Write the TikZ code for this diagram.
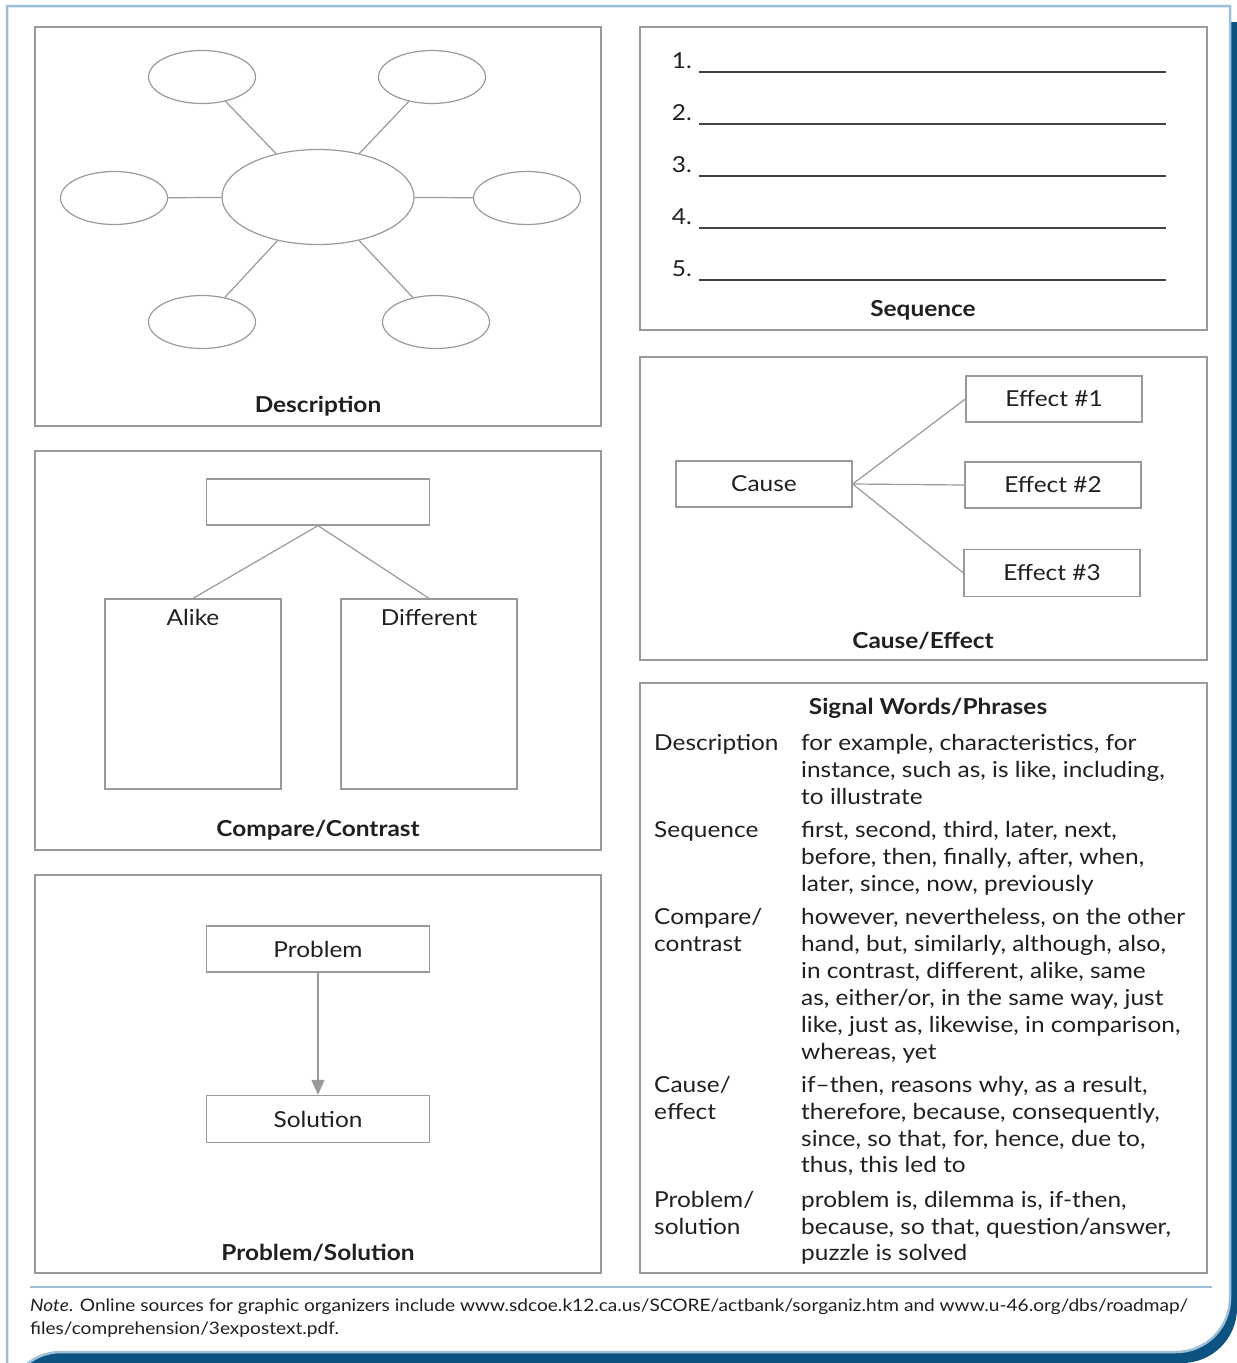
\documentclass[tikz,border=0pt]{standalone}
\usepackage{fontspec}
\setmainfont{Lato}[FakeStretch=1.11]
\usetikzlibrary{shapes.geometric,arrows.meta}
\definecolor{txt}{HTML}{231F20}
\definecolor{boxgray}{HTML}{9A9A9A}
\definecolor{lightblue}{HTML}{9DC0D8}
\definecolor{darkblue}{HTML}{0D5382}
\tikzset{
  panel/.style={draw=boxgray, line width=1.5pt},
  rbox/.style={draw=boxgray, line width=1.3pt, rectangle, inner sep=0pt, text=txt, font=\fontsize{22}{26}\selectfont},
  oval/.style={draw=boxgray, line width=1.2pt, ellipse, inner sep=0pt},
  conn/.style={draw=boxgray, line width=1.2pt},
  ttl/.style={font=\fontsize{22}{26}\selectfont\bfseries, text=txt, inner sep=0pt},
  num/.style={font=\fontsize{22}{26}\selectfont, text=txt, inner sep=0pt, anchor=mid east},
  wline/.style={draw=txt!85, line width=1.4pt},
  cell/.style={font=\fontsize{22}{26}\selectfont, text=txt, inner sep=0pt, anchor=mid west},
  note/.style={font=\fontsize{17.2}{22}\selectfont, text=txt, inner sep=0pt, anchor=mid west}
}
\begin{document}
\begin{tikzpicture}[x=1pt,y=-1pt]
\useasboundingbox (0,0) rectangle (1237,1363);
% outer frame
\fill[darkblue] (12,22) -- (1237,22) -- (1237,1308) arc[start angle=0,end angle=90,radius=55] -- (65,1363) arc[start angle=270,end angle=180,radius=55] -- cycle;
\fill[white] (7,6) -- (1230,6) -- (1230,1298) arc[start angle=0,end angle=90,radius=54] -- (61,1352) arc[start angle=270,end angle=180,radius=54] -- cycle;
\draw[lightblue, line width=2.5pt] (7,6) -- (1230,6) -- (1230,1298) arc[start angle=0,end angle=90,radius=54] -- (61,1352) arc[start angle=270,end angle=180,radius=54] -- cycle;

% ---------- Description panel
\draw[panel] (35,27) rectangle (601,426);
\node[oval, minimum width=192pt, minimum height=95pt] (big) at (318,197) {};
\node[oval, minimum width=107pt, minimum height=53pt] (d1) at (202,77) {};
\node[oval, minimum width=107pt, minimum height=53pt] (d2) at (432,77) {};
\node[oval, minimum width=107pt, minimum height=53pt] (d3) at (114,198) {};
\node[oval, minimum width=107pt, minimum height=53pt] (d4) at (527,198) {};
\node[oval, minimum width=107pt, minimum height=53pt] (d5) at (202,322) {};
\node[oval, minimum width=107pt, minimum height=53pt] (d6) at (436,322) {};
\foreach \e in {d1,d2,d3,d4,d5,d6} \draw[conn] (big) -- (\e);
\node[ttl] (tdesc) at (318,406) {Description};

% ---------- Sequence panel
\draw[panel] (640,27) rectangle (1207,330);
\node[num] (n1) at (692,66) {1.};
\node[num] (n2) at (692,118) {2.};
\node[num] (n3) at (692,170) {3.};
\node[num] (n4) at (692,222) {4.};
\node[num] (n5) at (692,274) {5.};
\draw[wline] (699,72) -- (1166,72);
\draw[wline] (699,124) -- (1166,124);
\draw[wline] (699,176) -- (1166,176);
\draw[wline] (699,228) -- (1166,228);
\draw[wline] (699,280) -- (1166,280);
\node[ttl] (tseq) at (923,310) {Sequence};

% ---------- Cause/Effect panel
\draw[panel] (640,357) rectangle (1207,660);
\node[rbox, minimum width=176pt, minimum height=46pt] (cause) at (764,484) {Cause};
\node[rbox, minimum width=176pt, minimum height=46pt] (ef1) at (1054,399) {Effect \#1};
\node[rbox, minimum width=176pt, minimum height=46pt] (ef2) at (1053,485) {Effect \#2};
\node[rbox, minimum width=176pt, minimum height=47pt] (ef3) at (1052,573) {Effect \#3};
\draw[conn] (cause.east) -- (ef1.west);
\draw[conn] (cause.east) -- (ef2.west);
\draw[conn] (cause.east) -- (ef3.west);
\node[ttl] (tce) at (923,641) {Cause/Effect};

% ---------- Compare/Contrast panel
\draw[panel] (35,451) rectangle (601,850);
\node[rbox, minimum width=223pt, minimum height=46pt] (top) at (318,502) {};
\node[rbox, minimum width=176pt, minimum height=190pt] (alike) at (193,694) {};
\node[rbox, minimum width=176pt, minimum height=190pt] (diff) at (429,694) {};
\draw[conn] (top.south) -- (alike.north);
\draw[conn] (top.south) -- (diff.north);
\node[cell, anchor=mid] (lalike) at (193,623) {Alike};
\node[cell, anchor=mid] (ldiff) at (429,623) {Different};
\node[ttl] (tcc) at (318,830) {Compare/Contrast};

% ---------- Problem/Solution panel
\draw[panel] (35,875) rectangle (601,1273);
\node[rbox, minimum width=223pt, minimum height=46pt] (prob) at (318,949) {Problem};
\node[rbox, minimum width=223pt, minimum height=47pt] (sol) at (318,1119) {Solution};
\draw[conn, -{Triangle[length=15pt,width=13pt]}, draw=boxgray, fill=boxgray!90!black] (prob.south) -- (sol.north);
\node[ttl] (tps) at (318,1253) {Problem/Solution};

% ---------- Signal words panel
\draw[panel] (640,683) rectangle (1207,1273);
\node[ttl] (tsig) at (928,708) {Signal Words/Phrases};
\node[cell] (a1) at (654,748) {Description};
\node[cell] (b1) at (801,748) {for example, characteristics, for};
\node[cell] (b2) at (801,775) {instance, such as, is like, including,};
\node[cell] (b3) at (801,802) {to illustrate};
\node[cell] (a2) at (654,835) {Sequence};
\node[cell] (c1) at (801,835) {first, second, third, later, next,};
\node[cell] (c2) at (801,862) {before, then, finally, after, when,};
\node[cell] (c3) at (801,889) {later, since, now, previously};
\node[cell] (a3) at (654,922) {Compare/};
\node[cell] (a3b) at (654,949) {contrast};
\node[cell] (d1t) at (801,922) {however, nevertheless, on the other};
\node[cell] (d2t) at (801,949) {hand, but, similarly, although, also,};
\node[cell] (d3t) at (801,976) {in contrast, different, alike, same};
\node[cell] (d4t) at (801,1003) {as, either/or, in the same way, just};
\node[cell] (d5t) at (801,1030) {like, just as, likewise, in comparison,};
\node[cell] (d6t) at (801,1057) {whereas, yet};
\node[cell] (a4) at (654,1090) {Cause/};
\node[cell] (a4b) at (654,1117) {effect};
\node[cell] (e1t) at (801,1090) {if–then, reasons why, as a result,};
\node[cell] (e2t) at (801,1117) {therefore, because, consequently,};
\node[cell] (e3t) at (801,1144) {since, so that, for, hence, due to,};
\node[cell] (e4t) at (801,1170) {thus, this led to};
\node[cell] (a5) at (654,1205) {Problem/};
\node[cell] (a5b) at (654,1232) {solution};
\node[cell] (f1t) at (801,1205) {problem is, dilemma is, if-then,};
\node[cell] (f2t) at (801,1232) {because, so that, question/answer,};
\node[cell] (f3t) at (801,1258) {puzzle is solved};

% ---------- note
\draw[lightblue, line width=1.5pt] (30,1287) -- (1212,1287);
\node[note] (note1) at (30,1309) {\textit{Note}. Online sources for graphic organizers include www.sdcoe.k12.ca.us/SCORE/actbank/sorganiz.htm and www.u-46.org/dbs/roadmap/};
\node[note] (note2) at (30,1332) {files/comprehension/3expostext.pdf.};
\end{tikzpicture}
\end{document}
